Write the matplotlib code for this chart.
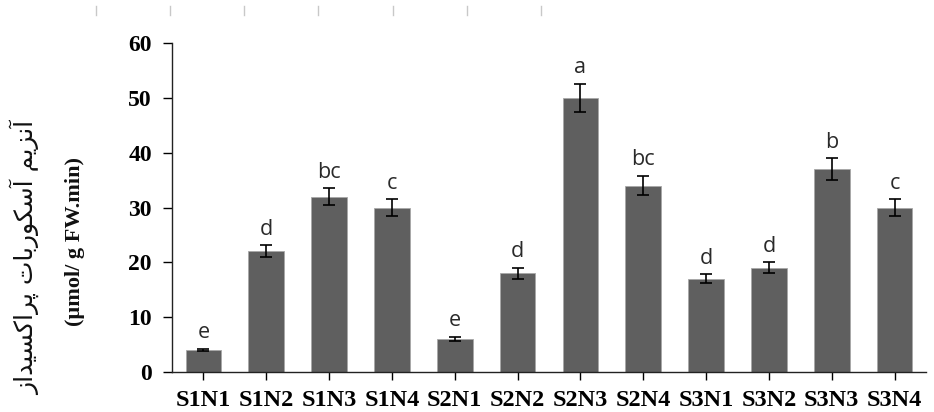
import matplotlib
matplotlib.use("Agg")
import matplotlib.pyplot as plt
from matplotlib.lines import Line2D
import numpy as np

categories = ["S1N1", "S1N2", "S1N3", "S1N4", "S2N1", "S2N2", "S2N3", "S2N4",
              "S3N1", "S3N2", "S3N3", "S3N4"]
values = [4.0, 22.0, 32.0, 30.0, 6.0, 18.0, 50.0, 34.0, 17.0, 19.0, 37.0, 30.0]
errors = [0.2, 1.1, 1.5, 1.5, 0.4, 1.0, 2.6, 1.8, 0.8, 1.0, 2.0, 1.5]
letters = ["e", "d", "bc", "c", "e", "d", "a", "bc", "d", "d", "b", "c"]
yticks = [0, 10, 20, 30, 40, 50, 60]

# Persian label pre-shaped (presentation forms), logical order
w1 = "\uFE81\uFEE7\uFEB0\uFBFE\uFEE2"
w2 = "\uFE81\uFEB3\uFB91\uFEEE\uFEAD\uFE91\uFE8E\uFE95"
w3 = "\uFB58\uFEAE\uFE8D\uFB90\uFEB4\uFBFF\uFEAA\uFE8D\uFEAF"
ylabel_fa = (w1 + " " + w2 + " " + w3)[::-1]
ylabel_unit = "(\u00b5mol/ g FW.min)"

fig = plt.figure(figsize=(9.34, 4.12), dpi=100)
ax = fig.add_axes([172 / 934, 1 - 372 / 412, (926 - 172) / 934, (372 - 43) / 412])

x = np.arange(len(categories))
ax.bar(x, values, width=0.57, color="#5f5f5f", edgecolor="#a8a8a8", linewidth=0.6, zorder=2)
ax.errorbar(x, values, yerr=errors, fmt="none", ecolor="black", elinewidth=1.2,
            capsize=4.5, capthick=1.2, zorder=3)

for xi, v, e, lab in zip(x, values, errors, letters):
    ax.annotate(lab, (xi, v + e), xytext=(0, 4), textcoords="offset points",
                ha="center", va="bottom", fontsize=15.5, color="#2a2a2a",
                family=["Open Sans", "DejaVu Sans"])

ax.set_xlim(-0.5, len(categories) - 0.5)
ax.set_ylim(0, 60)
ax.set_yticks(yticks)
ax.set_yticklabels([str(t) for t in yticks], fontsize=17, fontweight="bold",
                   family="Liberation Serif")
ax.set_xticks(x)
ax.set_xticklabels(categories, fontsize=17.5, fontweight="bold", family="Liberation Serif")
ax.tick_params(axis="y", direction="out", length=6.5, width=1, pad=8)
ax.tick_params(axis="x", direction="out", length=6, width=1, pad=7)
for s in ["top", "right"]:
    ax.spines[s].set_visible(False)
for s in ["left", "bottom"]:
    ax.spines[s].set_linewidth(1.0)
    ax.spines[s].set_color("#222222")

fig.text(25 / 934, 1 - 258 / 412, ylabel_fa, rotation=90, ha="center", va="center",
         fontsize=18, family=["DejaVu Sans"], color="#111111")
fig.text(75 / 934, 1 - 241 / 412, ylabel_unit, rotation=90, ha="center", va="center",
         fontsize=16, fontweight="bold", family="Liberation Serif", color="#111111")

# ruler marks at top of the image
for px in [96, 170, 244, 318, 393, 467, 541]:
    fig.add_artist(Line2D([px / 934, px / 934], [1 - 6 / 412, 1 - 15 / 412],
                          transform=fig.transFigure, color="#c8c8c8", linewidth=1))

fig.savefig("out.png", dpi=100)
